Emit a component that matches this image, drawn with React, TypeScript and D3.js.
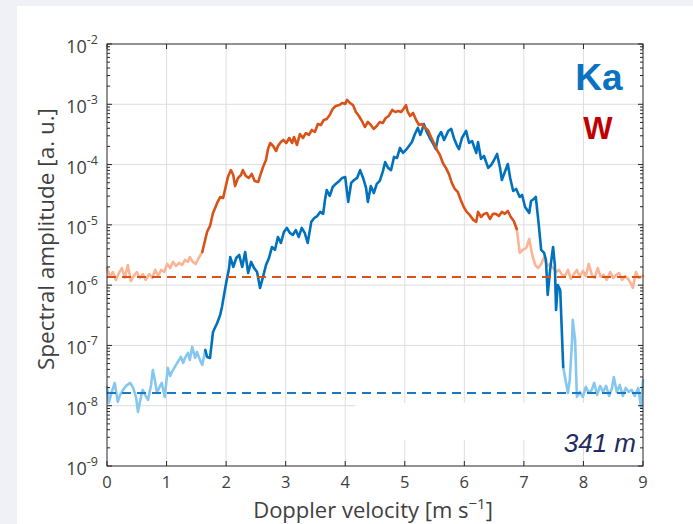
import React from "react";
import * as d3 from "d3";

// ---- data (velocity m/s, spectral amplitude a.u.) ----
const xTickValues = [0, 1, 2, 3, 4, 5, 6, 7, 8, 9];
const yDecadeExps = [-9, -8, -7, -6, -5, -4, -3, -2];

const wNoiseLevel = 1.37e-6;
const kaNoiseLevel = 1.63e-8;

const wLeft: [number, number][] = [
  [0.0, 1.92e-6], [0.05, 1.37e-6], [0.1, 1.65e-6], [0.15, 1.22e-6], [0.2, 1.59e-6], [0.25, 1.92e-6],
  [0.3, 1.32e-6], [0.35, 2.16e-6], [0.4, 1.17e-6], [0.45, 1.42e-6], [0.5, 1.65e-6], [0.55, 1.32e-6],
  [0.6, 1.53e-6], [0.65, 1.22e-6], [0.71, 1.53e-6], [0.76, 1.32e-6], [0.81, 1.79e-6], [0.86, 1.42e-6],
  [0.91, 1.79e-6], [0.96, 1.65e-6], [1.01, 2.25e-6], [1.06, 1.92e-6], [1.11, 2.43e-6], [1.16, 2.08e-6],
  [1.21, 2.34e-6], [1.26, 2.16e-6], [1.31, 2.62e-6], [1.36, 2.43e-6], [1.39, 2.93e-6], [1.44, 2.43e-6],
  [1.49, 2.25e-6], [1.54, 2.82e-6], [1.6, 3.55e-6],
];
const wMid: [number, number][] = [
  [1.6, 3.55e-6], [1.68, 7.6e-6], [1.73, 9.6e-6], [1.78, 1.57e-5], [1.85, 2.31e-5], [1.9, 2.9e-5],
  [1.95, 2.79e-5], [2.0, 4.6e-5], [2.03, 6.2e-5], [2.08, 8.1e-5], [2.12, 6.7e-5], [2.15, 4.4e-5],
  [2.2, 6.0e-5], [2.25, 6.7e-5], [2.28, 8.1e-5], [2.33, 6.5e-5], [2.38, 6.0e-5], [2.43, 7.0e-5],
  [2.48, 5.35e-5], [2.54, 5.15e-5], [2.57, 6.5e-5], [2.62, 9.1e-5], [2.67, 1.19e-4], [2.7, 1.75e-4],
  [2.74, 2.28e-4], [2.79, 2.03e-4], [2.84, 1.68e-4], [2.87, 2.03e-4], [2.92, 2.37e-4], [2.96, 2.56e-4],
  [3.01, 2.28e-4], [3.06, 2.76e-4], [3.11, 2.28e-4], [3.14, 2.87e-4], [3.19, 2.11e-4], [3.24, 3.22e-4],
  [3.29, 2.76e-4], [3.34, 3.34e-4], [3.39, 3.1e-4], [3.44, 3.75e-4], [3.49, 3.47e-4], [3.54, 4.71e-4],
  [3.59, 4.53e-4], [3.64, 5.49e-4], [3.69, 5.71e-4], [3.74, 6.64e-4], [3.79, 8.37e-4], [3.84, 9.37e-4],
  [3.9, 9.7e-4], [3.95, 1.05e-3], [4.0, 1.01e-3], [4.03, 1.18e-3], [4.08, 1.05e-3], [4.13, 9.7e-4],
  [4.18, 7.46e-4], [4.23, 6.4e-4], [4.28, 5.28e-4], [4.33, 4.2e-4], [4.38, 5.09e-4], [4.43, 4.53e-4],
  [4.48, 3.9e-4], [4.53, 4.37e-4], [4.58, 5.09e-4], [4.63, 4.9e-4], [4.68, 5.93e-4], [4.73, 6.4e-4],
  [4.79, 8.05e-4], [4.84, 7.46e-4], [4.89, 7.75e-4], [4.94, 7.46e-4], [4.99, 8.68e-4], [5.02, 9.7e-4],
  [5.05, 7.46e-4], [5.09, 6.4e-4], [5.14, 7.18e-4], [5.19, 5.49e-4], [5.24, 4.53e-4], [5.29, 4.71e-4],
  [5.34, 4.05e-4], [5.39, 3.75e-4], [5.44, 2.87e-4], [5.49, 2.28e-4], [5.54, 1.75e-4], [5.59, 1.44e-4],
  [5.64, 1.06e-4], [5.69, 8.8e-5], [5.74, 7.0e-5], [5.79, 4.96e-5], [5.84, 3.94e-5], [5.89, 3.51e-5],
  [5.94, 2.59e-5], [5.99, 1.98e-5], [6.04, 1.64e-5], [6.09, 1.46e-5], [6.15, 1.21e-5], [6.2, 1.12e-5],
  [6.23, 1.64e-5], [6.28, 1.35e-5], [6.33, 1.52e-5], [6.38, 1.57e-5], [6.43, 1.25e-5], [6.48, 1.52e-5],
  [6.53, 1.52e-5], [6.58, 1.4e-5], [6.63, 1.64e-5], [6.68, 1.52e-5], [6.73, 1.7e-5], [6.78, 1.35e-5],
  [6.83, 1.16e-5], [6.88, 8.55e-6],
];
const wRight: [number, number][] = [
  [6.88, 8.55e-6], [6.93, 3.42e-6], [6.98, 3.84e-6], [7.04, 4.14e-6], [7.09, 5.84e-6], [7.14, 3.17e-6],
  [7.19, 2.16e-6], [7.24, 1.92e-6], [7.29, 2.25e-6], [7.34, 2.93e-6], [7.39, 2.08e-6], [7.44, 2.25e-6],
  [7.49, 1.92e-6], [7.54, 1.65e-6], [7.59, 1.79e-6], [7.64, 1.48e-6], [7.69, 1.42e-6], [7.74, 1.79e-6],
  [7.79, 1.27e-6], [7.84, 1.53e-6], [7.89, 1.79e-6], [7.94, 1.37e-6], [7.99, 1.72e-6], [8.04, 1.42e-6],
  [8.09, 2.25e-6], [8.14, 1.48e-6], [8.19, 1.32e-6], [8.24, 1.92e-6], [8.29, 1.37e-6], [8.34, 1.48e-6],
  [8.39, 1.22e-6], [8.45, 1.65e-6], [8.5, 1.32e-6], [8.55, 1.48e-6], [8.6, 1.59e-6], [8.65, 1.22e-6],
  [8.7, 1.42e-6], [8.75, 1.27e-6], [8.8, 1.05e-6], [8.83, 8.99e-7], [8.88, 1.65e-6], [8.93, 1.32e-6],
  [9.0, 1.42e-6],
];

const kaLeft: [number, number][] = [
  [0.0, 2.05e-8], [0.03, 1.11e-8], [0.08, 1.69e-8], [0.13, 2.39e-8], [0.18, 1.16e-8], [0.22, 1.51e-8],
  [0.27, 1.83e-8], [0.32, 2.13e-8], [0.39, 2.39e-8], [0.44, 1.97e-8], [0.49, 1.35e-8], [0.52, 7.9e-9],
  [0.57, 1.4e-8], [0.6, 1.83e-8], [0.65, 1.45e-8], [0.69, 1.25e-8], [0.74, 2.21e-8], [0.77, 3.92e-8],
  [0.81, 2.48e-8], [0.84, 1.63e-8], [0.89, 2.13e-8], [0.92, 2.39e-8], [0.97, 1.4e-8], [1.02, 4.24e-8],
  [1.06, 3.12e-8], [1.09, 3.64e-8], [1.14, 4.4e-8], [1.19, 5.32e-8], [1.24, 6.45e-8], [1.28, 5.13e-8],
  [1.31, 6.2e-8], [1.36, 7.5e-8], [1.39, 5.75e-8], [1.43, 9.45e-8], [1.48, 6.2e-8], [1.51, 7.8e-8],
  [1.56, 5.75e-8], [1.6, 4.75e-8], [1.65, 8.4e-8],
];
const kaMid: [number, number][] = [
  [1.65, 8.4e-8], [1.68, 6.45e-8], [1.73, 6.2e-8], [1.78, 1.67e-7], [1.85, 2.36e-7], [1.9, 3.2e-7],
  [1.93, 4.35e-7], [1.98, 8.3e-7], [2.01, 1.22e-6], [2.05, 1.92e-6], [2.07, 2.93e-6], [2.12, 2.0e-6],
  [2.17, 2.82e-6], [2.22, 3.17e-6], [2.27, 2.0e-6], [2.32, 3.55e-6], [2.37, 1.59e-6], [2.42, 2.43e-6],
  [2.47, 1.92e-6], [2.52, 1.65e-6], [2.57, 9.0e-7], [2.62, 1.37e-6], [2.67, 2.16e-6], [2.72, 2.82e-6],
  [2.77, 4.3e-6], [2.82, 3.84e-6], [2.87, 6.3e-6], [2.92, 5.0e-6], [2.97, 7.6e-6], [3.02, 8.9e-6],
  [3.07, 7.35e-6], [3.12, 6.8e-6], [3.17, 8.2e-6], [3.22, 6.3e-6], [3.27, 8.9e-6], [3.32, 7.35e-6],
  [3.37, 5.0e-6], [3.43, 1.12e-5], [3.48, 1.3e-5], [3.53, 1.4e-5], [3.58, 1.64e-5], [3.63, 1.52e-5],
  [3.66, 2.59e-5], [3.69, 3.79e-5], [3.74, 3.02e-5], [3.79, 4.25e-5], [3.84, 4.77e-5], [3.9, 5.35e-5],
  [3.95, 6.0e-5], [4.0, 6.2e-5], [4.05, 2.4e-5], [4.1, 4.96e-5], [4.15, 5.55e-5], [4.2, 6.0e-5],
  [4.25, 8.1e-5], [4.3, 6.0e-5], [4.35, 4.09e-5], [4.38, 2.4e-5], [4.43, 4.42e-5], [4.48, 3.38e-5],
  [4.53, 4.77e-5], [4.58, 5.35e-5], [4.63, 7.55e-5], [4.67, 1.1e-4], [4.72, 8.8e-5], [4.77, 8.1e-5],
  [4.82, 1.34e-4], [4.87, 1.29e-4], [4.92, 1.89e-4], [4.97, 1.56e-4], [5.02, 1.75e-4], [5.07, 2.03e-4],
  [5.12, 2.37e-4], [5.17, 3.22e-4], [5.22, 4.05e-4], [5.26, 3.1e-4], [5.29, 3.75e-4], [5.32, 4.71e-4],
  [5.37, 3.47e-4], [5.42, 2.76e-4], [5.47, 2.28e-4], [5.52, 1.81e-4], [5.56, 2.87e-4], [5.61, 3.47e-4],
  [5.66, 2.56e-4], [5.73, 3.61e-4], [5.78, 3.9e-4], [5.83, 2.66e-4], [5.88, 2.03e-4], [5.91, 1.81e-4],
  [5.96, 2.76e-4], [6.03, 3.61e-4], [6.08, 2.28e-4], [6.13, 2.46e-4], [6.2, 1.56e-4], [6.23, 2.37e-4],
  [6.28, 1.24e-4], [6.33, 1.39e-4], [6.4, 8.8e-5], [6.45, 9.85e-5], [6.5, 1.19e-4], [6.55, 1.5e-4],
  [6.6, 8.8e-5], [6.63, 5.55e-5], [6.68, 7.55e-5], [6.73, 1.02e-4], [6.77, 6.0e-5], [6.82, 3.65e-5],
  [6.87, 3.94e-5], [6.93, 2.9e-5], [6.97, 3.13e-5], [7.02, 1.98e-5], [7.09, 1.57e-5], [7.12, 2.49e-5],
  [7.17, 2.69e-5], [7.2, 2.9e-5], [7.25, 9.97e-6], [7.29, 3.84e-6], [7.34, 3.42e-6], [7.37, 2.62e-6],
  [7.4, 6.88e-7], [7.44, 1.79e-6], [7.49, 4.3e-6], [7.52, 2.16e-6], [7.54, 3.88e-7], [7.57, 1.0e-6],
  [7.61, 8.3e-7], [7.62, 4.7e-7], [7.66, 4.4e-8],
];
const kaRight: [number, number][] = [
  [7.66, 4.4e-8], [7.69, 3.0e-8], [7.74, 1.63e-8], [7.77, 2.68e-8], [7.81, 1.23e-7], [7.82, 2.65e-7],
  [7.86, 1.23e-7], [7.89, 1.4e-8], [7.94, 1.69e-8], [7.99, 1.4e-8], [8.04, 2.05e-8], [8.09, 1.63e-8],
  [8.14, 1.83e-8], [8.18, 2.39e-8], [8.23, 1.51e-8], [8.28, 2.13e-8], [8.33, 1.69e-8], [8.38, 2.13e-8],
  [8.43, 1.45e-8], [8.48, 1.97e-8], [8.51, 3.0e-8], [8.56, 1.69e-8], [8.61, 2.21e-8], [8.66, 1.45e-8],
  [8.71, 1.97e-8], [8.76, 1.69e-8], [8.81, 1.83e-8], [8.86, 1.45e-8], [8.92, 1.97e-8], [8.97, 9.2e-9],
  [9.0, 2.68e-8],
];

// ---- styling ----
const FONT = "'Open Sans', 'DejaVu Sans', sans-serif";
const W_DARK = "#d95319";
const W_LIGHT = "#fbb596";
const KA_DARK = "#0072bd";
const KA_LIGHT = "#86c7f0";
const AXIS = "#262626";
const TICK_TXT = "#404040";

const L = 107, R = 643, T = 44, B = 466;

export default function App() {
  const x = d3.scaleLinear().domain([0, 9]).range([L, R]);
  const y = d3.scaleLog().domain([1e-9, 1e-2]).range([B, T]);
  const line = d3
    .line<[number, number]>()
    .x((d) => x(d[0]))
    .y((d) => y(d[1]));

  const allLogTicks = y.ticks();
  const minorTicks = allLogTicks.filter((t) => {
    const m = t / Math.pow(10, Math.floor(Math.log10(t) + 1e-9));
    return Math.abs(m - 1) > 1e-6;
  });
  const majorY = yDecadeExps.map((e) => Math.pow(10, e));
  const coverLeft = x(4.17);

  return (
    <div style={{ position: "fixed", left: 0, top: 0, width: 693, height: 524 }}>
      <svg width={693} height={524} style={{ display: "block", fontFamily: FONT }}>
        <rect x={0} y={0} width={693} height={524} fill="#f0f1f6" />
        <rect x={17} y={6} width={676} height={518} fill="#ffffff" />

        {/* grid */}
        <g stroke="#dedede" strokeWidth={1}>
          {xTickValues.slice(1, -1).map((v) => (
            <line key={"gx" + v} x1={x(v)} x2={x(v)} y1={T} y2={B} />
          ))}
          {majorY.slice(1, -1).map((v, i) => (
            <line key={"gy" + i} x1={L} x2={R} y1={y(v)} y2={y(v)} />
          ))}
        </g>
        <rect x={coverLeft} y={y(kaNoiseLevel) + 10} width={R - 2 - coverLeft} height={440 - (y(kaNoiseLevel) + 10)} fill="#ffffff" />

        {/* curves */}
        <g fill="none" strokeWidth={2.6} strokeLinejoin="round" strokeLinecap="round">
          <path d={line(kaLeft) || ""} stroke={KA_LIGHT} />
          <path d={line(kaRight) || ""} stroke={KA_LIGHT} />
          <path d={line(wLeft) || ""} stroke={W_LIGHT} />
          <path d={line(wRight) || ""} stroke={W_LIGHT} />
          <path d={line(kaMid) || ""} stroke={KA_DARK} />
          <path d={line(wMid) || ""} stroke={W_DARK} />
        </g>

        {/* noise levels */}
        <line x1={x(0)} x2={x(9)} y1={y(wNoiseLevel)} y2={y(wNoiseLevel)} stroke={W_DARK} strokeWidth={2} strokeDasharray="9,6" />
        <line x1={x(0)} x2={x(9)} y1={y(kaNoiseLevel)} y2={y(kaNoiseLevel)} stroke="#1a78c2" strokeWidth={2} strokeDasharray="9,6" />

        {/* axes box */}
        <rect x={L} y={T} width={R - L} height={B - T} fill="none" stroke={AXIS} strokeWidth={1} />

        {/* ticks */}
        <g stroke={AXIS} strokeWidth={1}>
          {xTickValues.map((v) => (
            <g key={"xt" + v}>
              <line x1={x(v)} x2={x(v)} y1={B} y2={B - 5} />
              <line x1={x(v)} x2={x(v)} y1={T} y2={T + 5} />
            </g>
          ))}
          {majorY.map((v, i) => (
            <g key={"yt" + i}>
              <line x1={L} x2={L + 5} y1={y(v)} y2={y(v)} />
              <line x1={R} x2={R - 5} y1={y(v)} y2={y(v)} />
            </g>
          ))}
          {minorTicks.map((v, i) => (
            <g key={"ym" + i}>
              <line x1={L} x2={L + 3} y1={y(v)} y2={y(v)} />
              <line x1={R} x2={R - 3} y1={y(v)} y2={y(v)} />
            </g>
          ))}
        </g>

        {/* x tick labels */}
        <g fill={TICK_TXT} fontSize={16.5} textAnchor="middle">
          {xTickValues.map((v) => (
            <text key={"xl" + v} x={x(v)} y={B + 22}>
              {x.tickFormat(10, "d")(v)}
            </text>
          ))}
        </g>

        {/* y tick labels */}
        <g fill={TICK_TXT} textAnchor="end">
          {yDecadeExps.map((e) => (
            <text key={"yl" + e} x={L - 9} y={y(Math.pow(10, e)) + 9} fontSize={18}>
              <tspan>10</tspan>
              <tspan dy={-9} fontSize={12.5}>{e}</tspan>
            </text>
          ))}
        </g>

        {/* axis labels */}
        <text x={373} y={518} textAnchor="middle" fontSize={22} fill={TICK_TXT}>
          <tspan>Doppler velocity [m s</tspan>
          <tspan dy={-9} fontSize={15}>−1</tspan>
          <tspan dy={9}>]</tspan>
        </text>
        <text
          transform={`translate(54, 239) rotate(-90)`}
          textAnchor="middle"
          fontSize={22.5}
          fill={TICK_TXT}
        >
          Spectral amplitude [a. u.]
        </text>

        {/* legend labels */}
        <text x={599} y={90} textAnchor="middle" fontSize={37} fontWeight="bold" fill="#0a72c2" fontFamily="'Liberation Sans', Arial, sans-serif">
          Ka
        </text>
        <text x={598} y={139} textAnchor="middle" fontSize={31} fontWeight="bold" fill="#c00000" fontFamily="'Liberation Sans', Arial, sans-serif">
          W
        </text>
        <text x={636} y={452} textAnchor="end" fontSize={26} fontStyle="italic" fill="#1f2a5e" fontFamily="'Liberation Sans', Arial, sans-serif">
          341 m
        </text>
      </svg>
    </div>
  );
}
